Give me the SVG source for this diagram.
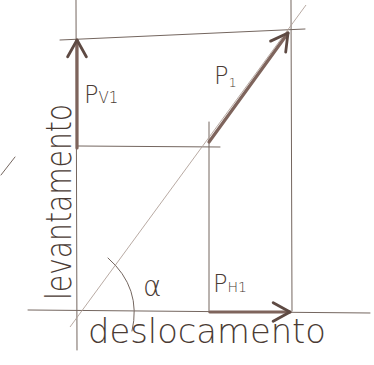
<svg xmlns="http://www.w3.org/2000/svg" width="374" height="365" viewBox="0 0 374 365">
<defs>
<style>
.guide{stroke:#74665f;stroke-width:1;fill:none;stroke-linecap:round}
.faint{stroke:#b0a098;stroke-width:0.9;fill:none}
.vec{stroke:#7e645c;stroke-width:3.2;fill:none;stroke-linecap:round;stroke-linejoin:round}
.lbl{font-family:"DejaVu Sans","Liberation Sans",sans-serif;fill:#4a3b34;font-weight:300}
</style>
<marker id="ah" viewBox="0 0 12 12" refX="10" refY="6" markerWidth="7" markerHeight="7" markerUnits="strokeWidth" orient="auto">
<path d="M1,1 L10,6 L1,11" fill="none" stroke="#5e4a43" stroke-width="1.5" stroke-linecap="round" stroke-linejoin="round"/>
</marker>
</defs>
<rect width="374" height="365" fill="#ffffff"/>
<g id="guides">
<line class="guide" x1="76" y1="0" x2="77" y2="350"/>
<line class="guide" x1="291" y1="0" x2="292" y2="311"/>
<line class="guide" x1="209" y1="122" x2="209" y2="312"/>
<line class="guide" x1="60" y1="40" x2="305" y2="29"/>
<line class="guide" x1="77" y1="146" x2="220" y2="147"/>
<line class="guide" x1="28" y1="310" x2="370" y2="313"/>
<line class="faint" x1="70" y1="327" x2="306" y2="5"/>
<line class="guide" x1="1" y1="175" x2="15" y2="157"/>
<path class="guide" d="M108,258 Q142,288 132,331" stroke-width="1.4"/>
</g>
<g id="connectors">
<line id="vec-pv1" class="vec" x1="77" y1="148" x2="77" y2="40" marker-end="url(#ah)"/>
<line id="vec-p1" class="vec" x1="209" y1="142" x2="288" y2="33" marker-end="url(#ah)"/>
<line id="vec-ph1" class="vec" x1="210" y1="312" x2="290" y2="312" marker-end="url(#ah)"/>
</g>
<g id="labels">
<g id="label-pv1"><text class="lbl" x="84" y="103" font-size="24">P<tspan font-size="15">V1</tspan></text></g>
<g id="label-p1"><text class="lbl" x="214" y="84" font-size="24">P<tspan font-size="13" dy="3">1</tspan></text></g>
<g id="label-ph1"><text class="lbl" x="213" y="292" font-size="24">P<tspan font-size="14">H1</tspan></text></g>
<g id="label-alpha"><text class="lbl" x="143" y="296" font-size="28">α</text></g>
<g id="label-lev"><text class="lbl" transform="translate(71,300) rotate(-90)" font-size="36" textLength="196" lengthAdjust="spacingAndGlyphs">levantamento</text></g>
<g id="label-des"><text class="lbl" x="88" y="343" font-size="34" textLength="238" lengthAdjust="spacingAndGlyphs">deslocamento</text></g>
</g>
</svg>
